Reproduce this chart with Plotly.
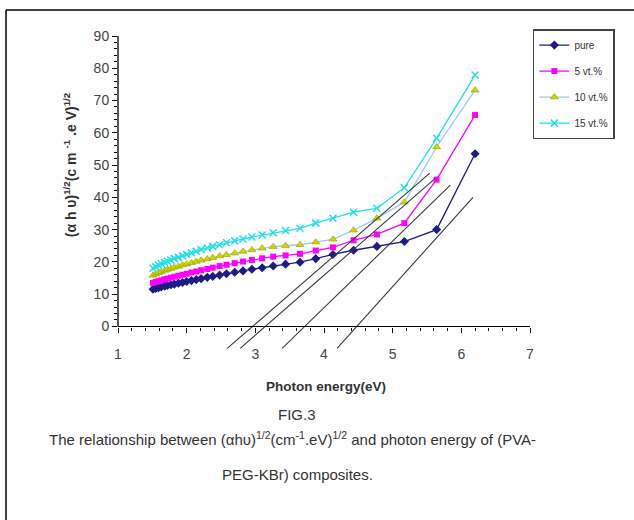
import plotly.graph_objects as go

# ---- data ----
energy = [1.51, 1.55, 1.59, 1.63, 1.68, 1.72, 1.77, 1.82, 1.88, 1.94, 2.00, 2.07,
          2.14, 2.21, 2.30, 2.38, 2.48, 2.58, 2.70, 2.82, 2.95, 3.10, 3.26, 3.44,
          3.65, 3.88, 4.13, 4.43, 4.77, 5.17, 5.64, 6.20]
pure = [11.5, 11.8, 12.0, 12.2, 12.5, 12.7, 12.9, 13.1, 13.4, 13.6, 13.9, 14.2,
        14.5, 14.8, 15.2, 15.5, 15.9, 16.3, 16.8, 17.2, 17.7, 18.2, 18.7, 19.3,
        19.9, 21.0, 22.3, 23.6, 24.8, 26.3, 30.0, 53.5]
wt5 = [13.5, 13.8, 14.0, 14.3, 14.6, 14.8, 15.1, 15.4, 15.7, 16.0, 16.3, 16.7,
       17.0, 17.4, 17.8, 18.2, 18.7, 19.1, 19.6, 20.1, 20.6, 21.1, 21.6, 22.0,
       22.5, 23.5, 24.5, 26.7, 28.5, 32.0, 45.5, 65.5]
wt10 = [15.8, 16.2, 16.6, 16.9, 17.3, 17.6, 17.9, 18.3, 18.6, 19.0, 19.3, 19.7,
        20.1, 20.5, 20.9, 21.3, 21.8, 22.2, 22.7, 23.2, 23.7, 24.2, 24.7, 25.0,
        25.3, 26.1, 27.0, 29.8, 33.5, 38.5, 55.6, 73.2]
wt15 = [18.0, 18.5, 19.0, 19.4, 19.8, 20.2, 20.6, 21.0, 21.4, 21.9, 22.3, 22.8,
        23.3, 23.8, 24.3, 24.8, 25.3, 25.9, 26.5, 27.1, 27.7, 28.3, 29.0, 29.7,
        30.4, 32.0, 33.5, 35.4, 36.6, 43.0, 58.3, 77.9]
series_names = ["pure", "5 vt.%", "10 vt.%", "15 vt.%"]

# tangent (extrapolation) lines: [x_low, x_high], [y_low, y_high]
tangent_x = [[2.59, 5.54], [2.78, 5.62], [3.39, 5.84], [4.19, 6.17]]
tangent_y = [[-6.8, 47.5], [-6.8, 45.9], [-6.8, 43.8], [-6.8, 40.0]]

x_ticks = [1, 2, 3, 4, 5, 6, 7]
y_ticks = [0, 10, 20, 30, 40, 50, 60, 70, 80, 90]
y_minor = [v for v in range(2, 90, 2) if v % 10 != 0]

FONT = "Liberation Sans Narrow, Arial Narrow, Liberation Sans, Arial, sans-serif"

fig = go.Figure()

styles = [
    dict(line=dict(color="#1c1c84", width=1.3),
         marker=dict(symbol="diamond", size=7, color="#1c1c84")),
    dict(line=dict(color="#ff00ff", width=1.3),
         marker=dict(symbol="square", size=6, color="#ff00ff")),
    dict(line=dict(color="#9cc8f5", width=1.3),
         marker=dict(symbol="triangle-up", size=7, color="#ccd800",
                     line=dict(color="#9a9a00", width=0.6))),
    dict(line=dict(color="#22e0e6", width=1.3),
         marker=dict(symbol="x-thin", size=7, color="#22e0e6",
                     line=dict(color="#22e0e6", width=1.5))),
]

for name, ys, st in zip(series_names, [pure, wt5, wt10, wt15], styles):
    fig.add_trace(go.Scatter(x=energy, y=ys, mode="lines+markers", name=name,
                             legendgroup=name, **st))

for tx, ty in zip(tangent_x, tangent_y):
    fig.add_trace(go.Scatter(x=tx, y=ty, mode="lines", showlegend=False,
                             hoverinfo="skip",
                             line=dict(color="#3a3a3a", width=1.1)))

fig.update_layout(
    width=634, height=520,
    margin=dict(l=118, r=104, t=36, b=171, pad=0),
    paper_bgcolor="white", plot_bgcolor="white",
    font=dict(family=FONT, size=13, color="#333"),
    showlegend=True,
    legend=dict(x=1.007, y=1.022, xanchor="left", yanchor="top",
                bordercolor="#444", borderwidth=1.5, bgcolor="white",
                font=dict(size=10, color="#333", family=FONT),
                tracegroupgap=7, itemwidth=30),
    xaxis=dict(range=[1, 7], tickvals=x_ticks, ticks="outside", ticklen=5,
               tickcolor="black", showline=True, linecolor="black", linewidth=1.3,
               showgrid=False, zeroline=False, anchor="free", position=7 / 97,
               ticklabelstandoff=10,
               minor=dict(dtick=0.2, tick0=1, ticks="outside", ticklen=3,
                          tickcolor="black", showgrid=False),
               tickfont=dict(size=14, color="#444")),
    yaxis=dict(range=[-7, 90], tickvals=y_ticks, ticks="outside", ticklen=5,
               tickcolor="black", showline=False, showgrid=False, zeroline=False,
               minor=dict(tickvals=y_minor, ticks="outside", ticklen=3,
                          tickcolor="black", showgrid=False),
               tickfont=dict(size=14, color="#444")),
    shapes=[
        # y-axis line from 0 to 90
        dict(type="line", xref="paper", yref="y", x0=0, x1=0, y0=0, y1=90,
             line=dict(color="black", width=1.3)),
        # outer frame (top and left edges)
        dict(type="line", xref="paper", yref="paper", x0=-0.2718, x1=1.26,
             y0=1.0832, y1=1.0832, line=dict(color="black", width=1.5)),
        dict(type="line", xref="paper", yref="paper", x0=-0.2718, x1=-0.2718,
             y0=1.0832, y1=-0.56, line=dict(color="black", width=1.5)),
    ],
    annotations=[
        dict(xref="paper", yref="paper", x=-0.1165, y=0.587, textangle=-90,
             showarrow=False, xanchor="center", yanchor="middle",
             text="<b>(α h υ)<sup>1/2</sup>(c m <sup>-1</sup> .e V)<sup>1/2</sup></b>",
             font=dict(size=14, color="#333")),
        dict(xref="paper", yref="paper", x=0.505, y=-0.1196, showarrow=False,
             xanchor="center", yanchor="middle",
             text="<b>Photon energy(eV)</b>", font=dict(size=13.5, color="#333")),
        dict(xref="paper", yref="paper", x=0.4345, y=-0.209, showarrow=False,
             xanchor="center", yanchor="middle", text="FIG.3",
             font=dict(size=15, color="#333")),
        dict(xref="paper", yref="paper", x=0.4225, y=-0.286, showarrow=False,
             xanchor="center", yanchor="middle",
             text="The relationship between (αhυ)<sup>1/2</sup>(cm<sup>-1</sup>.eV)<sup>1/2</sup> and photon energy of (PVA-",
             font=dict(size=15, color="#333")),
        dict(xref="paper", yref="paper", x=0.4345, y=-0.401, showarrow=False,
             xanchor="center", yanchor="middle", text="PEG-KBr) composites.",
             font=dict(size=15, color="#333")),
    ],
)

fig.write_html("out.html", config={"displayModeBar": False},
               post_script="document.body.style.margin='0';")
